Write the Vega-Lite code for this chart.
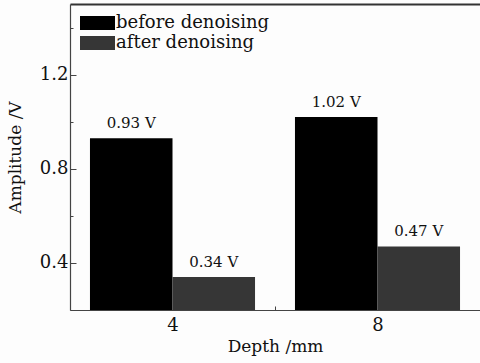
{
  "$schema": "https://vega.github.io/schema/vega-lite/v6.json",
  "width": 410,
  "height": 306,
  "autosize": {"type": "none"},
  "padding": {"left": 70, "top": 4, "right": 0, "bottom": 53},
  "background": "#fdfdfd",
  "config": {
    "font": "DejaVu Serif",
    "view": {"stroke": null},
    "axis": {
      "labelFont": "DejaVu Serif",
      "titleFont": "DejaVu Serif",
      "labelFontSize": 18,
      "titleFontSize": 17,
      "titleFontWeight": "normal",
      "labelColor": "#111",
      "titleColor": "#111",
      "domainColor": "#444",
      "tickColor": "#444",
      "grid": false
    },
    "legend": {
      "labelFont": "DejaVu Serif",
      "labelFontSize": 18,
      "labelColor": "#111"
    }
  },
  "data": {
    "values": [
      {"depth": "4", "stage": "before denoising", "amplitude": 0.93, "label": "0.93 V"},
      {"depth": "4", "stage": "after denoising", "amplitude": 0.34, "label": "0.34 V"},
      {"depth": "8", "stage": "before denoising", "amplitude": 1.02, "label": "1.02 V"},
      {"depth": "8", "stage": "after denoising", "amplitude": 0.47, "label": "0.47 V"}
    ]
  },
  "resolve": {"axis": {"x": "independent"}},
  "encoding": {
    "xOffset": {
      "field": "stage",
      "type": "nominal",
      "sort": ["before denoising", "after denoising"],
      "scale": {"paddingInner": 0, "paddingOuter": 0.242}
    }
  },
  "layer": [
    {
      "mark": {"type": "bar", "clip": true},
      "encoding": {
        "x": {
          "field": "depth",
          "type": "nominal",
          "scale": {"domain": ["4", "8"], "paddingInner": 0, "paddingOuter": 0},
          "axis": {
            "title": "Depth /mm",
            "labelAngle": 0,
            "tickBand": "extent",
            "tickSize": -4,
            "labelPadding": 10,
            "titlePadding": 4,
            "domainWidth": 1.2
          }
        },
        "y": {
          "field": "amplitude",
          "type": "quantitative",
          "scale": {"domain": [0.2, 1.5], "zero": false, "nice": false},
          "axis": {
            "title": "Amplitude /V",
            "values": [0.4, 0.6, 0.8, 1.0, 1.2, 1.4],
            "format": ".1f",
            "labelExpr": "round(datum.value*10) % 4 == 0 ? datum.label : ''",
            "tickSize": {"condition": {"test": "round(datum.value*10) % 4 == 0", "value": -6}, "value": -3},
            "labelPadding": 8,
            "titlePadding": 15,
            "domainWidth": 1.2
          }
        },
        "color": {
          "field": "stage",
          "type": "nominal",
          "sort": ["before denoising", "after denoising"],
          "scale": {"domain": ["before denoising", "after denoising"], "range": ["#000000", "#363636"]},
          "legend": {
            "title": null,
            "orient": "none",
            "legendX": 8,
            "legendY": 10,
            "padding": 0,
            "symbolType": "M-1,-1H4V1H-1Z",
            "symbolSize": 196,
            "symbolStrokeWidth": 0,
            "symbolOpacity": 1,
            "labelOffset": 20,
            "rowPadding": 2
          }
        }
      }
    },
    {
      "mark": {"type": "text", "dy": -7, "baseline": "bottom", "fontSize": 15, "font": "DejaVu Serif", "color": "#111"},
      "encoding": {
        "x": {
          "field": "depth",
          "type": "nominal",
          "axis": {"orient": "top", "labels": false, "ticks": false, "title": null, "domainWidth": 2, "domainColor": "#333"}
        },
        "y": {"field": "amplitude", "type": "quantitative"},
        "text": {"field": "label"}
      }
    }
  ]
}
